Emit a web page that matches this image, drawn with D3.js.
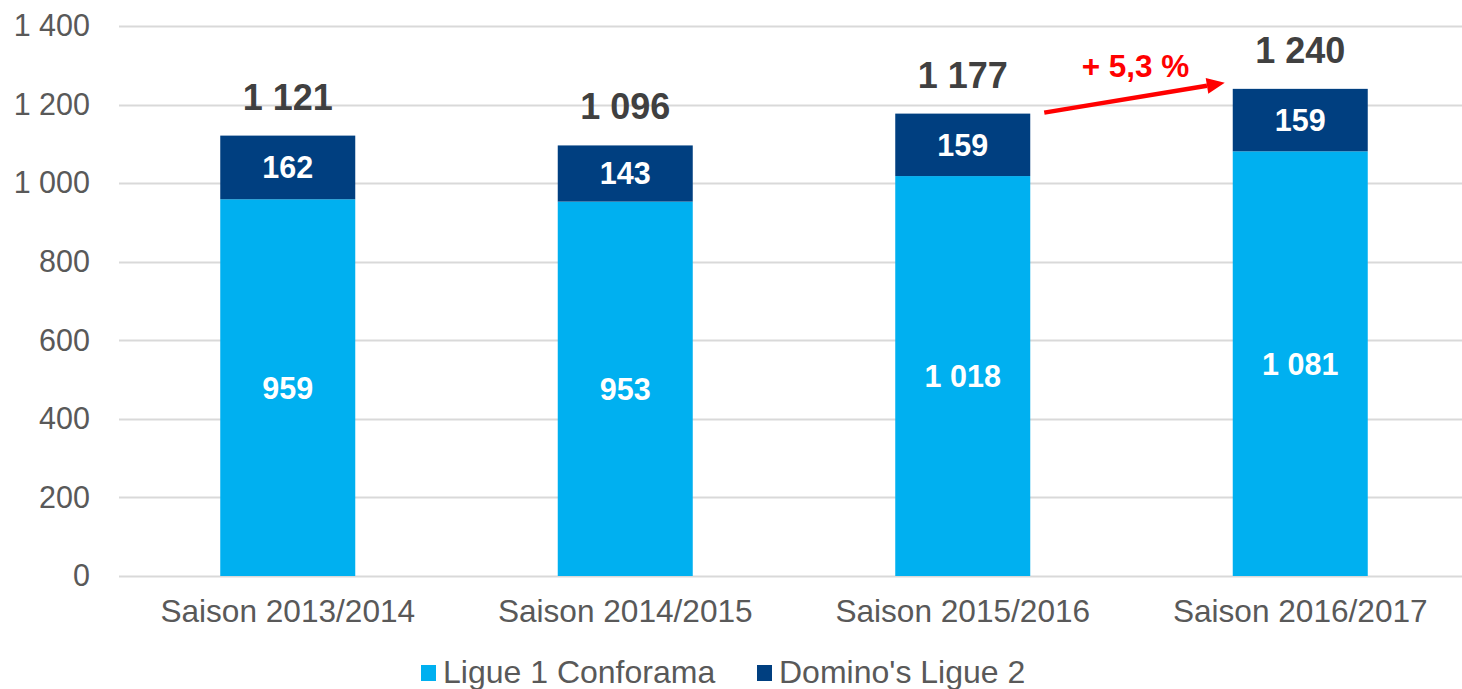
<!DOCTYPE html>
<html>
<head>
    <meta charset="utf-8">
    <title>Ligue 1 / Ligue 2</title>
    <script src="https://d3js.org/d3.v7.min.js"></script>
    <style>
        body { margin: 0; background: #fff; }
        svg { display: block; font-family: "Liberation Sans", Arial, sans-serif; }
    </style>
</head>
<body>
    <svg width="1462" height="689"></svg>
    <script>
        const seasons = ["Saison 2013/2014", "Saison 2014/2015", "Saison 2015/2016", "Saison 2016/2017"];
        const ligue1 = [959, 953, 1018, 1081];
        const ligue2 = [162, 143, 159, 159];
        const seriesNames = ["Ligue 1 Conforama", "Domino's Ligue 2"];
        const yTicks = [0, 200, 400, 600, 800, 1000, 1200, 1400];
        const growthLabel = "+ 5,3 %";

        const svg = d3.select("svg"),
              width = +svg.attr("width"),
              height = +svg.attr("height");

        const fr = d3.formatLocale({decimal: ",", thousands: " ", grouping: [3], currency: ["", " €"]});
        const fmt = fr.format(",d");

        const colors = ["#00b0f0", "#003f80"];

        const x = d3.scaleBand()
                    .domain(seasons)
                    .range([119, 1469])
                    .paddingInner(0.6)
                    .paddingOuter(0.3);
        const y = d3.scaleLinear()
                    .domain([0, 1400])
                    .range([576, 26]);

        // grille
        svg.append("g")
           .selectAll("line")
           .data(yTicks)
           .enter().append("line")
           .attr("x1", 119)
           .attr("x2", width)
           .attr("y1", d => Math.round(y(d)) + 0.5)
           .attr("y2", d => Math.round(y(d)) + 0.5)
           .attr("stroke", "#d9d9d9")
           .attr("stroke-width", 2);

        // axe y
        const yAxis = svg.append("g")
           .attr("transform", "translate(90,0)")
           .call(d3.axisLeft(y).tickValues(yTicks).tickFormat(fmt).tickSize(0).tickPadding(0));
        yAxis.select(".domain").remove();
        yAxis.selectAll("text")
             .attr("fill", "#595959")
             .style("font-size", "30.5px")
             .style("font-family", "'Liberation Sans', Arial, sans-serif");

        // axe x
        const xAxis = svg.append("g")
           .attr("transform", "translate(0,576)")
           .call(d3.axisBottom(x).tickSize(0).tickPadding(0));
        xAxis.select(".domain").remove();
        xAxis.selectAll("text")
             .attr("dy", 0)
             .attr("y", 46)
             .attr("fill", "#595959")
             .style("font-size", "31.6px")
             .style("font-family", "'Liberation Sans', Arial, sans-serif");

        const rows = seasons.map((s, i) => ({season: s, l1: ligue1[i], l2: ligue2[i], total: ligue1[i] + ligue2[i]}));

        // barres empilées
        const stack = d3.stack().keys(["l1", "l2"])(rows);
        stack.forEach((layer, k) => {
            const g = svg.append("g");
            g.selectAll("rect")
             .data(layer)
             .enter().append("rect")
             .attr("x", d => x(d.data.season))
             .attr("y", d => y(d[1]))
             .attr("width", x.bandwidth())
             .attr("height", d => y(d[0]) - y(d[1]))
             .attr("fill", colors[k]);
            g.selectAll("text")
             .data(layer)
             .enter().append("text")
             .attr("x", d => x(d.data.season) + x.bandwidth() / 2)
             .attr("y", d => (y(d[0]) + y(d[1])) / 2)
             .attr("dy", "0.36em")
             .attr("text-anchor", "middle")
             .attr("fill", "#fff")
             .style("font-size", "30.5px")
             .style("font-weight", "bold")
             .text(d => fmt(d[1] - d[0]));
        });

        // totaux
        svg.append("g")
           .selectAll("text")
           .data(rows)
           .enter().append("text")
           .attr("x", d => x(d.season) + x.bandwidth() / 2)
           .attr("y", d => y(d.total) - 26)
           .attr("text-anchor", "middle")
           .attr("fill", "#404040")
           .style("font-size", "36px")
           .style("font-weight", "bold")
           .text(d => fmt(d.total));

        // flèche de progression
        const a = rows[2], b = rows[3];
        const x0 = x(a.season) + x.bandwidth() + 14, y0 = y(a.total) - 1;
        const x1 = x(b.season) - 8, y1 = y(b.total) - 6;
        const ang = Math.atan2(y1 - y0, x1 - x0);
        const hl = 18, hw = 8;
        const bx = x1 - hl * Math.cos(ang), by = y1 - hl * Math.sin(ang);
        svg.append("line")
           .attr("x1", x0).attr("y1", y0)
           .attr("x2", bx).attr("y2", by)
           .attr("stroke", "#ff0000")
           .attr("stroke-width", 4.5);
        svg.append("path")
           .attr("d", `M${x1},${y1} L${bx + hw * Math.sin(ang)},${by - hw * Math.cos(ang)} L${bx - hw * Math.sin(ang)},${by + hw * Math.cos(ang)} Z`)
           .attr("fill", "#ff0000");
        svg.append("text")
           .attr("x", (x0 + x1) / 2 + 1)
           .attr("y", 77)
           .attr("text-anchor", "middle")
           .attr("fill", "#ff0000")
           .style("font-size", "31.5px")
           .style("font-weight", "bold")
           .text(growthLabel);

        // légende
        const legendX = [421, 757];
        const legend = svg.selectAll(".legend")
            .data(seriesNames)
            .enter().append("g")
            .attr("class", "legend")
            .attr("transform", (d, i) => `translate(${legendX[i]},0)`);
        legend.append("rect")
            .attr("x", 0)
            .attr("y", 665)
            .attr("width", 15)
            .attr("height", 16)
            .attr("fill", (d, i) => colors[i]);
        legend.append("text")
            .attr("x", 22)
            .attr("y", 683)
            .attr("fill", "#595959")
            .style("font-size", "32px")
            .text(d => d);
    </script>
</body>
</html>
